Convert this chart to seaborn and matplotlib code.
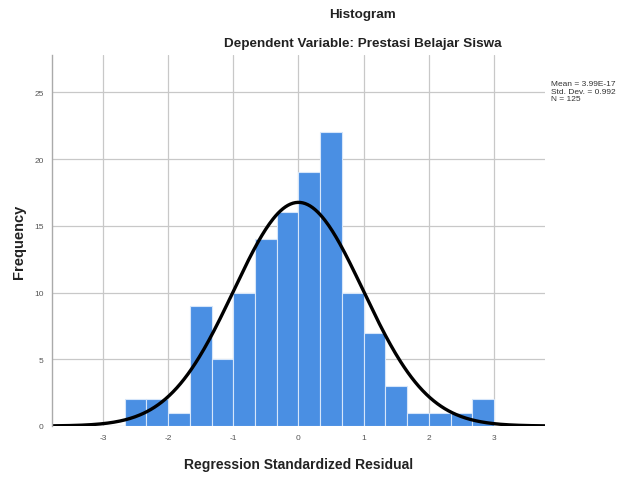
import matplotlib
matplotlib.use("Agg")
import matplotlib.pyplot as plt
import numpy as np
import pandas as pd
import seaborn as sns

# Histogram counts (bin width = 1/3)
bin_left = [-8/3, -7/3, -2, -5/3, -4/3, -1, -2/3, -1/3, 0, 1/3, 2/3, 1, 4/3, 5/3, 2, 7/3, 8/3]
counts = [2, 2, 1, 9, 5, 10, 14, 16, 19, 22, 10, 7, 3, 1, 1, 1, 2]
mean_val = 3.99e-17
std_val = 0.992
n_val = 125
x_ticks = [-3, -2, -1, 0, 1, 2, 3]
y_ticks = [0, 5, 10, 15, 20, 25]

sns.set_style("whitegrid")
plt.rcParams['font.family'] = ['Liberation Sans', 'DejaVu Sans']

width = 1/3
df = pd.DataFrame({'x': np.array(bin_left) + width / 2, 'n': counts})

fig = plt.figure(figsize=(6.22, 4.81), dpi=100)
ax = fig.add_axes([0.0836, 0.1123, 0.7925, 0.7713])

sns.histplot(data=df, x='x', weights='n', binwidth=width,
             binrange=(bin_left[0], bin_left[-1] + width), ax=ax,
             color='#4a8fe3', alpha=1, edgecolor='#d6e6fa', linewidth=0.8)

# fitted normal curve
xs = np.linspace(-3.78, 3.78, 400)
ys = n_val * width / (std_val * np.sqrt(2 * np.pi)) * np.exp(-0.5 * ((xs - mean_val) / std_val) ** 2)
sns.lineplot(x=xs, y=ys, ax=ax, color='black', linewidth=2.4)

ax.set_xlim(-3.78, 3.78)
ax.set_ylim(0, 27.8)
ax.set_xticks(x_ticks)
ax.set_yticks(y_ticks)
ax.set_xticklabels([str(t) for t in x_ticks])
ax.tick_params(labelsize=6, colors='#555555', length=0, pad=6)
ax.grid(True, color='#c8c8c8', linewidth=0.9)
ax.set_axisbelow(True)
for s in ['top', 'right', 'bottom']:
    ax.spines[s].set_visible(False)
ax.spines['left'].set_color('#aaaaaa')
ax.spines['left'].set_linewidth(1.0)

ax.set_xlabel('Regression Standardized Residual', fontsize=10, fontweight='bold', labelpad=11, color='#222222')
ax.set_ylabel('Frequency', fontsize=10.5, fontweight='bold', labelpad=6, color='#222222')

fig.text(362/622, 1 - 15/481, 'Histogram', ha='center', va='center', fontsize=9.7, fontweight='bold', color='#222222')
fig.text(363/622, 1 - 44/481, 'Dependent Variable: Prestasi Belajar Siswa', ha='center', va='center',
         fontsize=9.7, fontweight='bold', color='#222222')

fig.text(551/622, 1 - 92/481, 'Mean = 3.99E-17\nStd. Dev. = 0.992\nN = 125', ha='left', va='center',
         fontsize=6, color='#333333', linespacing=1.15)

fig.savefig('out.png', dpi=100)
